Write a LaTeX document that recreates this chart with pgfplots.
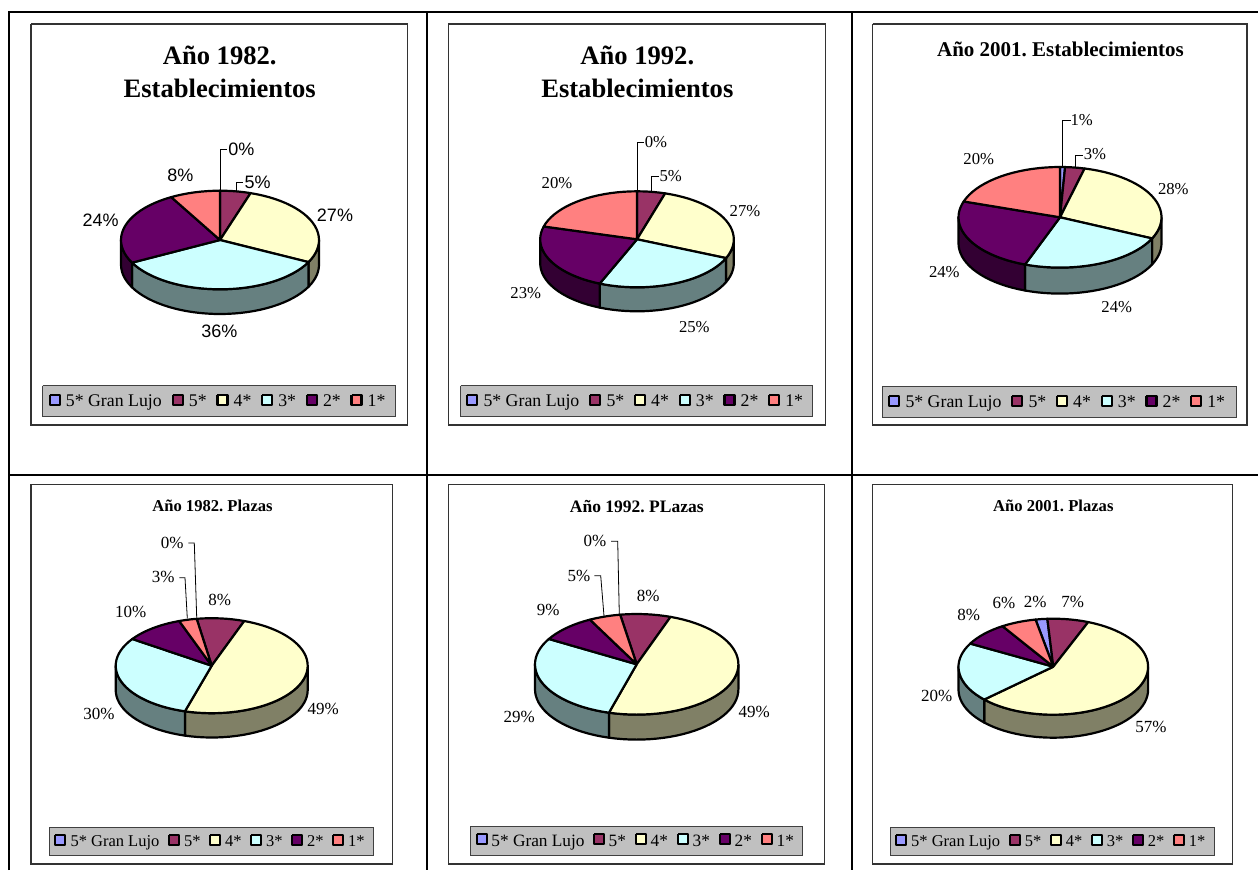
\documentclass[border=0pt]{standalone}
\usepackage{pgfplots}
\usepackage{fontspec}
\pgfplotsset{compat=1.18}
\setmainfont{Liberation Serif}
\newfontfamily\arialf{Liberation Sans}
\frenchspacing
\definecolor{cGL}{HTML}{9999FF}\definecolor{dGL}{HTML}{4C4C80}
\definecolor{cV}{HTML}{993366}\definecolor{dV}{HTML}{4C1A33}
\definecolor{cIV}{HTML}{FFFFCC}\definecolor{dIV}{HTML}{808066}
\definecolor{cIII}{HTML}{CCFFFF}\definecolor{dIII}{HTML}{668080}
\definecolor{cII}{HTML}{660066}\definecolor{dII}{HTML}{330033}
\definecolor{cI}{HTML}{FF8080}\definecolor{dI}{HTML}{804040}
\definecolor{legbg}{HTML}{C0C0C0}
% ---- pie geometry helpers: slices are polygons made from the values
\def\AddArc#1#2#3#4#5#6{% cx cy rx ry from to
  \pgfmathtruncatemacro\nsteps{max(1,ceil(abs(#6-(#5))/4))}%
  \foreach \i in {0,...,\nsteps}{%
    \pgfmathsetmacro\myt{#5+(#6-(#5))*\i/\nsteps}%
    \pgfmathsetmacro\px{#1+#3*sin(\myt)}%
    \pgfmathsetmacro\py{#2-#4*cos(\myt)}%
    \xdef\poly{\poly (\px,\py)}%
  }%
}
\def\PieAt#1#2#3#4#5#6{\def\Cx{#1}\def\Cy{#2}\def\Rx{#3}\def\Ry{#4}\def\Hh{#5}\def\Off{#6}}
\def\SliceSide#1#2{%
  \pgfmathsetmacro\sfrom{\cum*3.6}%
  \pgfmathsetmacro\newcum{\cum+#1}\xdef\cum{\newcum}%
  \pgfmathsetmacro\sto{\cum*3.6}%
  \pgfmathsetmacro\sa{max(\sfrom,90)}%
  \pgfmathsetmacro\sb{min(\sto,270)}%
  \pgfmathtruncatemacro\vis{ifthenelse(\sb>\sa,1,0)}%
  \ifnum\vis=1
    \gdef\poly{}%
    \AddArc{\Cx}{\Cy}{\Rx}{\Ry}{\sa}{\sb}%
    \pgfmathsetmacro\CyB{\Cy+\Hh}%
    \AddArc{\Cx}{\CyB}{\Rx}{\Ry}{\sb}{\sa}%
    \pgfmathsetmacro\pxx{\Cx+\Rx*sin(\sa)}%
    \pgfmathsetmacro\pyy{\Cy-\Ry*cos(\sa)}%
    \edef\temp{\noexpand\addplot[draw=black,fill=#2,line width=2.2pt,line join=round] coordinates {\poly (\pxx,\pyy)};}\temp
  \fi
}
\def\SliceTop#1#2{%
  \pgfmathsetmacro\sfrom{\cum*3.6}%
  \pgfmathsetmacro\newcum{\cum+#1}\xdef\cum{\newcum}%
  \pgfmathsetmacro\sto{\cum*3.6}%
  \xdef\poly{(\Cx,\Cy)}%
  \AddArc{\Cx}{\Cy}{\Rx}{\Ry}{\sfrom}{\sto}%
  \edef\temp{\noexpand\addplot[draw=black,fill=#2,line width=2.2pt,line join=round] coordinates {\poly (\Cx,\Cy)};}\temp
}
\def\SixSlices#1#2#3#4#5#6{%
  \xdef\cum{\Off}%
  \SliceSide{#1}{dGL}\SliceSide{#2}{dV}\SliceSide{#3}{dIV}\SliceSide{#4}{dIII}\SliceSide{#5}{dII}\SliceSide{#6}{dI}%
  \xdef\cum{\Off}%
  \SliceTop{#1}{cGL}\SliceTop{#2}{cV}\SliceTop{#3}{cIV}\SliceTop{#4}{cIII}\SliceTop{#5}{cII}\SliceTop{#6}{cI}%
}
% ---- text helpers
\newcommand\T[4]{\node[anchor=base,inner sep=0pt,font={\fontsize{#3}{#3}\selectfont}] at (axis cs:#1,#2) {#4};}
\newcommand\Tw[4]{\node[anchor=base west,inner sep=0pt,font={\fontsize{#3}{#3}\selectfont}] at (axis cs:#1,#2) {#4};}
\newcommand\Frame[4]{\addplot[draw=black!80,fill=white,line width=1.1pt] coordinates {(#1,#2) (#3,#2) (#3,#4) (#1,#4) (#1,#2)};}
\newcommand\LegBox[4]{\addplot[draw=black!75,fill=legbg,line width=1pt] coordinates {(#1,#2) (#3,#2) (#3,#4) (#1,#4) (#1,#2)};}
\def\Swatch#1#2#3#4#5#6#7{% x y baseline textoff size label colour
  \pgfmathsetmacro\xa{#1-5}\pgfmathsetmacro\xb{#1+5}%
  \pgfmathsetmacro\ya{#2-5}\pgfmathsetmacro\yb{#2+5}%
  \pgfmathsetmacro\xt{#1+#4}%
  \edef\temp{\noexpand\addplot[draw=black,fill=#7,line width=2.2pt,line join=round] coordinates {(\xa,\ya) (\xb,\ya) (\xb,\yb) (\xa,\yb) (\xa,\ya)};}\temp
  \edef\temp{\noexpand\Tw{\xt}{#3}{#5}{#6}}\temp
}
\def\LegItems#1#2#3#4#5#6#7{% x y baseline first pitch textoff size
  \pgfmathsetmacro\lxa{#1}\Swatch{\lxa}{#2}{#3}{#6}{#7}{5* Gran Lujo}{cGL}%
  \pgfmathsetmacro\lxb{\lxa+#4}\Swatch{\lxb}{#2}{#3}{#6}{#7}{5*}{cV}%
  \pgfmathsetmacro\lxc{\lxb+#5}\Swatch{\lxc}{#2}{#3}{#6}{#7}{4*}{cIV}%
  \pgfmathsetmacro\lxd{\lxc+#5}\Swatch{\lxd}{#2}{#3}{#6}{#7}{3*}{cIII}%
  \pgfmathsetmacro\lxe{\lxd+#5}\Swatch{\lxe}{#2}{#3}{#6}{#7}{2*}{cII}%
  \pgfmathsetmacro\lxf{\lxe+#5}\Swatch{\lxf}{#2}{#3}{#6}{#7}{1*}{cI}%
}
\begin{document}
\begin{tikzpicture}
\begin{axis}[scale only axis,width=1258pt,height=870pt,
  xmin=0,xmax=1258,ymin=0,ymax=870,y dir=reverse,hide axis]
% table rules
\addplot[black,line width=2pt] coordinates {(9.3,870) (9.3,12.3) (1258,12.3)};
\addplot[black,line width=2pt] coordinates {(427,12) (427,870)};
\addplot[black,line width=2pt] coordinates {(852,12) (852,870)};
\addplot[black,line width=2pt] coordinates {(9,475) (1258,475)};
% chart frames
\Frame{31}{24}{407.5}{425}
\Frame{448.3}{24}{825.7}{425}
\Frame{872.7}{24}{1247}{425}
\Frame{31}{484.3}{392.7}{864}
\Frame{448.3}{484.3}{824.3}{864}
\Frame{872.7}{484.3}{1232.3}{864}
% legend boxes
\LegBox{42.7}{385.7}{395}{416.3}
\LegBox{460.7}{385.7}{812.7}{416.3}
\LegBox{882.3}{386.7}{1236.3}{417}
\LegBox{49.3}{827.3}{373.3}{855.3}
\LegBox{470.3}{826}{802}{855.3}
\LegBox{890.3}{827.3}{1214}{855.3}
% pies: 5* Gran Lujo, 5*, 4*, 3*, 2*, 1*  (slice sizes)
\PieAt{220}{240}{99}{49.3}{24.7}{0}
\SixSlices{0}{5}{27.4}{35}{24.4}{8.2}
\PieAt{637}{239.3}{96.8}{48}{24}{0}
\SixSlices{0}{4.7}{26.7}{24.9}{23}{20.7}
\PieAt{1060}{217.3}{101.5}{50.3}{26}{0}
\SixSlices{0.8}{3.1}{28}{23.7}{24.5}{19.9}
\PieAt{211.7}{665.7}{96}{47.5}{24.3}{-2.5}
\SixSlices{0}{8}{49}{30}{10}{3}
\PieAt{636.7}{664.3}{101.7}{50.3}{25}{-2.6}
\SixSlices{0}{8}{49}{29}{9}{5}
\PieAt{1053.3}{666.7}{94.8}{48}{23}{-3}
\SixSlices{2}{7}{57}{20}{8}{6}
% leader lines
\addplot[black,line width=0.8pt] coordinates {(220,190.7) (220,149.7) (227.3,149.7)};
\addplot[black,line width=0.8pt] coordinates {(236,190.7) (236,182.7) (242.7,182.7)};
\addplot[black,line width=0.8pt] coordinates {(637.3,192) (637.3,142.3) (644.3,142.3)};
\addplot[black,line width=0.8pt] coordinates {(651.7,192.3) (651.7,176.7) (659,176.7)};
\addplot[black,line width=0.8pt] coordinates {(1062.3,166.7) (1062.3,120) (1070.7,120)};
\addplot[black,line width=0.8pt] coordinates {(1075,166.7) (1075,155) (1082.7,155)};
\addplot[black,line width=0.8pt] coordinates {(188.3,543) (194.3,543) (196.7,617.3)};
\addplot[black,line width=0.8pt] coordinates {(179.3,577.7) (185,577.7) (187.3,618.3)};
\addplot[black,line width=0.8pt] coordinates {(611,541.3) (617.7,541.3) (619.3,614.3)};
\addplot[black,line width=0.8pt] coordinates {(594.3,575.7) (600.7,575.7) (604,616)};
% legends
\LegItems{54.7}{400}{406.7}{123}{44.7}{11}{17.8}
\LegItems{472.3}{400}{406.7}{123}{44.7}{11}{17.8}
\LegItems{894.3}{401}{407.7}{123}{44.7}{11}{17.8}
\LegItems{60.3}{840}{846.7}{113.7}{41}{10}{16.5}
\LegItems{481.7}{839.3}{846}{117.3}{42}{9.5}{17.3}
\LegItems{901}{840}{846.7}{113.7}{41}{10}{16.5}
% titles
\T{219.7}{64}{26.6}{\bfseries Año 1982.}
\T{219.7}{97.7}{26.6}{\bfseries Establecimientos}
\T{637.3}{64}{26.6}{\bfseries Año 1992.}
\T{637.3}{97.7}{26.6}{\bfseries Establecimientos}
\T{1060.5}{56}{21}{\bfseries Año 2001. Establecimientos}
\T{212.5}{511.7}{16.6}{\bfseries Año 1982. Plazas}
\T{636.8}{512.7}{17.5}{\bfseries Año 1992. PLazas}
\T{1053.3}{511.7}{16.6}{\bfseries Año 2001. Plazas}
% percentage labels
\T{241.3}{155.3}{18}{\arialf 0\%}
\T{257.7}{188.7}{18}{\arialf 5\%}
\T{335}{221.3}{18}{\arialf 27\%}
\T{100.7}{226.3}{18}{\arialf 24\%}
\T{180.3}{181.3}{18}{\arialf 8\%}
\T{219.3}{337}{18}{\arialf 36\%}
\T{656}{147.3}{16.7}{0\%}
\T{670.7}{181}{16.7}{5\%}
\T{745}{216}{16.7}{27\%}
\T{557}{188.3}{16.7}{20\%}
\T{525.7}{298.3}{16.7}{23\%}
\T{694.3}{332}{16.7}{25\%}
\T{1081.7}{125.3}{16.7}{1\%}
\T{1095}{159}{16.7}{3\%}
\T{1173.3}{194.3}{16.7}{28\%}
\T{978.7}{164.3}{16.7}{20\%}
\T{944.3}{277.3}{16.7}{24\%}
\T{1116.7}{312}{16.7}{24\%}
\T{172.3}{548.3}{17}{0\%}
\T{163.3}{582.3}{17}{3\%}
\T{219.7}{605}{17}{8\%}
\T{130.7}{617.3}{17}{10\%}
\T{99}{719.3}{17}{30\%}
\T{323.3}{714.3}{17}{49\%}
\T{595}{546.3}{17}{0\%}
\T{579}{581}{17}{5\%}
\T{648.3}{601}{17}{8\%}
\T{548.3}{615}{17}{9\%}
\T{519.3}{722}{17}{29\%}
\T{754.3}{717}{17}{49\%}
\T{968.7}{620.7}{17}{8\%}
\T{1004}{608.3}{17}{6\%}
\T{1035.3}{607}{17}{2\%}
\T{1072.7}{607}{17}{7\%}
\T{936.7}{701}{17}{20\%}
\T{1151}{732}{17}{57\%}
\end{axis}
\path (current axis.south west) rectangle (current axis.north east);
\end{tikzpicture}
\end{document}
